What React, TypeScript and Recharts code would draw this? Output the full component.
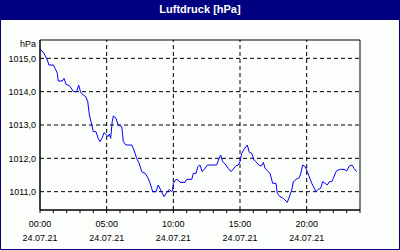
import { LineChart, Line, XAxis, YAxis, CartesianGrid, ReferenceLine, ReferenceArea } from 'recharts'

// minutes since 00:00 on 24.07.21
const minutes = [
  0, 18, 33, 40, 60, 68, 78, 82, 100, 108, 117, 132, 143, 150, 165, 174, 183, 195, 206, 215,
  222, 233, 240, 252, 262, 270, 279, 288, 297, 306, 312, 318, 325, 330, 342, 352, 368, 375, 387, 413,
  423, 435, 446, 458, 473, 487, 498, 507, 522, 532, 543, 558, 570, 582, 593, 597, 600, 612, 622, 630,
  653, 660, 683, 690, 702, 710, 720, 730, 743, 753, 795, 806, 813, 822, 833, 847, 860, 870, 882, 892,
  900, 908, 918, 933, 942, 953, 963, 975, 987, 998, 1005, 1013, 1027, 1035, 1047, 1062, 1068, 1080, 1095, 1113,
  1133, 1140, 1155, 1167, 1173, 1182, 1193, 1203, 1223, 1242, 1252, 1263, 1272, 1283, 1293, 1302, 1313, 1320, 1332, 1342,
  1353, 1368, 1380, 1392, 1404, 1413, 1425,
]

const pressure = [
  1015.28, 1015.15, 1014.95, 1014.8, 1014.8, 1014.7, 1014.55, 1014.32, 1014.32, 1014.4, 1014.22, 1014.18, 1014.08, 1014.0, 1014.0, 1014.2, 1013.98, 1013.9, 1013.85, 1013.7,
  1013.3, 1013.0, 1012.8, 1012.8, 1012.6, 1012.5, 1012.6, 1012.77, 1012.72, 1012.65, 1012.73, 1012.6, 1013.1, 1013.27, 1013.2, 1013.0, 1012.95, 1012.5, 1012.4, 1012.4,
  1012.25, 1012.0, 1011.85, 1011.6, 1011.55, 1011.4, 1011.2, 1011.0, 1011.0, 1011.2, 1011.05, 1010.85, 1010.97, 1011.07, 1011.0, 1011.05, 1011.25, 1011.37, 1011.35, 1011.28,
  1011.28, 1011.37, 1011.37, 1011.55, 1011.55, 1011.75, 1011.8, 1011.6, 1011.7, 1011.8, 1011.8, 1012.0, 1012.1, 1011.9, 1011.83, 1011.7, 1011.6, 1011.68, 1011.78, 1011.8,
  1011.9, 1012.15, 1012.27, 1012.4, 1012.18, 1012.15, 1011.95, 1011.88, 1011.78, 1011.78, 1011.88, 1011.7, 1011.6, 1011.55, 1011.25, 1011.25, 1010.95, 1010.85, 1010.8, 1010.68,
  1011.05, 1011.3, 1011.38, 1011.42, 1011.53, 1011.8, 1011.75, 1011.6, 1011.25, 1011.0, 1011.07, 1011.1, 1011.3, 1011.25, 1011.2, 1011.3, 1011.3, 1011.4, 1011.6, 1011.65,
  1011.67, 1011.67, 1011.62, 1011.77, 1011.8, 1011.7, 1011.6,
]

const hourTicks = [0, 60, 120, 180, 240, 300, 360, 420, 480, 540, 600, 660, 720, 780, 840, 900, 960, 1020, 1080, 1140, 1200, 1260, 1320, 1380, 1440]
const gridMinutes = [300, 600, 900, 1200]
const timeLabels: Record<number, string> = { 0: '00:00', 300: '05:00', 600: '10:00', 900: '15:00', 1200: '20:00' }
const dateLabel = '24.07.21'
const yTicks = [1011, 1012, 1013, 1014, 1015]
const yDomain = [1010.45, 1015.55]

const data = minutes.map((m, i) => ({ t: m, p: pressure[i] }))

const font = '"Liberation Sans", Arial, sans-serif'
const navy = '#000080'

function TimeTick({ x, y, payload }: any) {
  const label = timeLabels[payload.value]
  if (!label) return null
  return (
    <g>
      <text x={x} y={y + 12} textAnchor="middle" fontSize={9} fill="#000" fontFamily={font}>{label}</text>
      <text x={x} y={y + 26} textAnchor="middle" fontSize={9} fill="#000" fontFamily={font}>{dateLabel}</text>
    </g>
  )
}

function UnitLabel({ viewBox }: any) {
  return (
    <text x={viewBox.x + viewBox.width - 4} y={viewBox.y + 7} textAnchor="end" fontSize={9} fill="#000" fontFamily={font}>
      hPa
    </text>
  )
}

export default function App() {
  return (
    <div style={{
      position: 'absolute', left: 0, top: 0, width: 400, height: 250,
      background: '#FCFEFC', boxShadow: `inset 0 0 0 1px ${navy}`, fontFamily: font,
    }}>
      <div style={{
        position: 'absolute', left: 0, top: 0, width: 400, height: 20, background: navy,
        color: '#fff', fontWeight: 'bold', fontSize: 11, lineHeight: '18px', textAlign: 'center',
      }}>
        Luftdruck [hPa]
      </div>
      <div style={{ position: 'absolute', left: 0, top: 20 }}>
        <LineChart width={400} height={230} data={data} margin={{ top: 20, right: 40, bottom: 0, left: 0 }}>
          <CartesianGrid vertical={false} horizontalValues={yTicks} stroke="#000" strokeDasharray="4 3" />
          {gridMinutes.map(m => (
            <ReferenceLine key={m} x={m} stroke="#000" strokeDasharray="4 3" />
          ))}
          <ReferenceArea x1={0} x2={1440} y1={yDomain[0]} y2={yDomain[1]} fill="none" stroke="#000" strokeWidth={1} />
          <XAxis dataKey="t" type="number" domain={[0, 1440]} ticks={hourTicks} interval={0} height={40}
            tickSize={3} tickMargin={2} tickLine={{ stroke: '#000' }} axisLine={{ stroke: '#000' }}
            tick={<TimeTick />} />
          <YAxis type="number" domain={yDomain} ticks={yTicks} width={40} tickSize={4} tickMargin={0}
            tickLine={false} axisLine={{ stroke: '#000' }}
            tick={{ fontSize: 9, fill: '#000', fontFamily: font }}
            tickFormatter={(v: number) => v.toFixed(1).replace('.', ',')}
            label={<UnitLabel />} allowDataOverflow />
          <Line type="linear" dataKey="p" stroke="#0000FF" strokeWidth={1} dot={false} isAnimationActive={false} />
        </LineChart>
      </div>
    </div>
  )
}
